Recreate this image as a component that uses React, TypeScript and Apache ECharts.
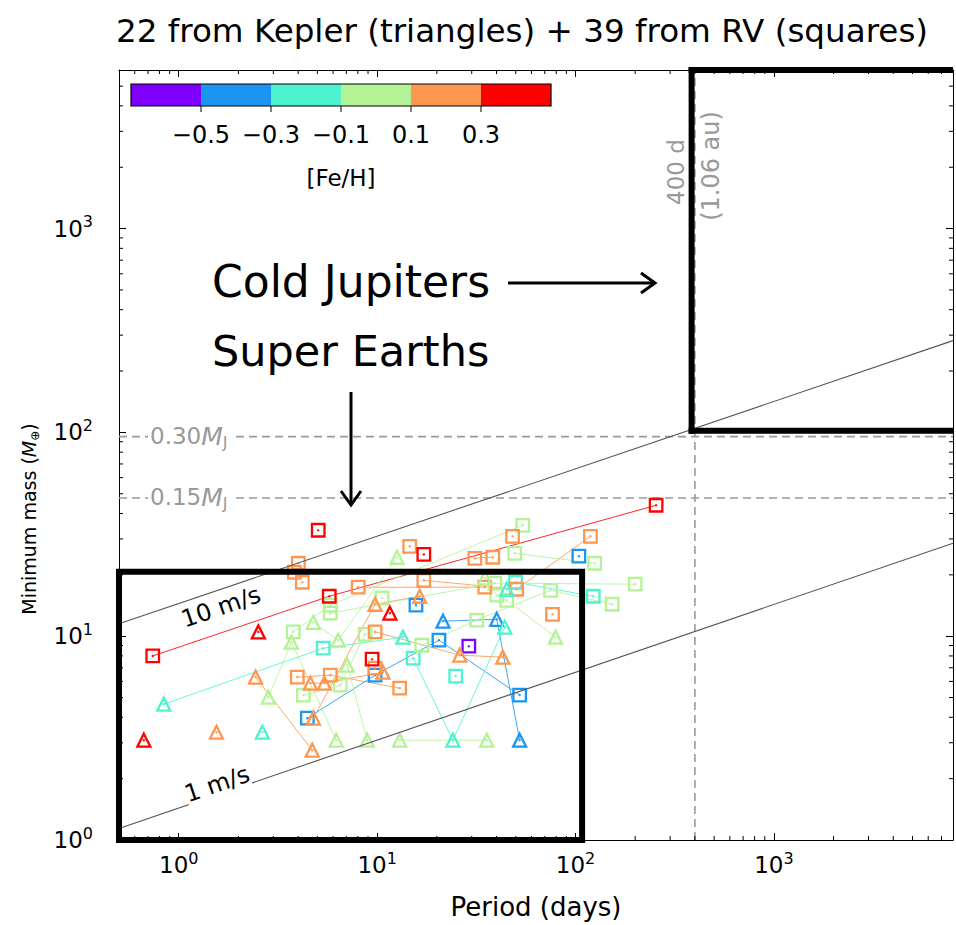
import React, { useEffect, useRef } from 'react';
import * as echarts from 'echarts';

// ---------- axis ranges / ticks ----------
const X_MIN = 0.5;
const X_MAX = 8000;
const Y_MIN = 1;
const Y_MAX = 6000;

// ---------- [Fe/H] colour bins ----------
const fehEdges = [-0.7, -0.5, -0.3, -0.1, 0.1, 0.3, 0.5];
const fehColors = ['#8000ff', '#1a96f2', '#4df3ce', '#b3f396', '#ff964f', '#ff0000'];
const fehTickValues = [-0.5, -0.3, -0.1, 0.1, 0.3];
const fehTickLabels = ['−0.5', '−0.3', '−0.1', '0.1', '0.3'];

// ---------- planets (period [d], minimum mass [M_earth], [Fe/H], Kepler?, system id) ----------
const planetPeriod = [
  0.74, 5.74, 255, 2.44, 4.71, 3.96, 5.81, 13.0, 4.61, 5.42,
  10.7, 4.77, 9.77, 16.4, 9.77, 26.1, 43.0, 17.2, 50.5, 119,
  31.1, 38.3, 8.03, 34.9, 4.45, 9.77, 20.5, 52.3, 21.5, 40.1,
  52.3, 0.841, 5.35, 13.5, 15.2, 24.1, 44.0, 45.0, 49.9, 123,
  13.0, 35.7, 3.78, 5.81, 54.2, 5.81, 39.2, 200, 4.77, 6.37,
  12.6, 4.25, 6.52, 8.70, 2.83, 3.70, 6.22, 16.8, 31.8, 74.9,
  153, 7.07, 8.91, 49.4, 125, 34.9, 40.1, 45.0, 79.3, 5.05,
  17.2, 9.44, 0.667, 2.52, 11.6, 1.55, 4.01, 3.83, 4.20, 9.77,
  14.6, 48.2, 76.6, 10.6, 2.64, 24.9, 29.0, 15.7, 104,
];
const planetMass = [
  8.0, 15.7, 43.9, 6.3, 2.76, 6.3, 6.44, 5.56, 5.88, 5.88,
  6.66, 3.96, 14.35, 15.7, 10.5, 8.07, 7.89, 18.8, 17.0, 30.9,
  24.1, 24.4, 17.4, 17.4, 3.96, 6.44, 9.56, 5.14, 11.85, 12.1,
  3.09, 4.64, 8.73, 9.89, 7.8, 3.09, 11.07, 17.0, 18.4, 15.7,
  3.09, 3.09, 10.5, 14.2, 35.0, 12.97, 18.2, 18.0, 11.7, 9.56,
  24.4, 5.14, 5.75, 10.2, 5.02, 9.35, 3.09, 9.03, 12.0, 16.8,
  14.35, 7.21, 3.09, 25.5, 22.8, 19.3, 15.9, 15.0, 9.89, 33.1,
  25.2, 7.71, 3.09, 10.5, 12.97, 3.38, 22.8, 20.6, 18.4, 6.97,
  27.6, 30.9, 12.8, 15.4, 3.38, 6.37, 8.93, 14.2, 24.7,
];
const planetFeH = [
  0.4, 0.4, 0.4, 0.2, 0.2, 0.2, 0.2, 0.2, 0.2, 0.2,
  0.2, 0.2, 0.2, 0.2, 0.2, 0.2, 0.2, 0.2, 0.2, 0.2,
  0.2, 0.2, 0.2, 0.2, -0.4, -0.4, -0.4, -0.4, -0.4, -0.4,
  -0.4, -0.2, -0.2, -0.2, -0.2, -0.2, -0.2, -0.2, -0.2, -0.2,
  0, 0, 0, 0, 0, 0, 0, 0, 0, 0,
  0, 0, 0, 0, 0, 0, 0, 0, 0, 0,
  0, 0, 0, 0, 0, 0, 0, 0, 0, 0.4,
  0.4, 0.4, 0.4, 0.4, 0.4, 0.2, 0.2, 0.2, 0.2, 0.2,
  0.2, 0.2, 0.2, 0, -0.2, -0.2, -0.6, -0.4, -0.4,
];
const planetKepler = [
  0, 0, 0, 1, 1, 0, 0, 0, 1, 1,
  1, 1, 1, 1, 0, 1, 1, 0, 0, 0,
  0, 0, 0, 0, 0, 0, 0, 0, 1, 1,
  1, 1, 0, 1, 0, 1, 1, 1, 0, 0,
  1, 1, 0, 0, 0, 0, 0, 0, 1, 1,
  1, 0, 0, 0, 1, 1, 1, 0, 0, 0,
  0, 1, 1, 0, 0, 1, 0, 0, 1, 0,
  0, 0, 1, 1, 1, 1, 0, 0, 0, 0,
  0, 0, 0, 0, 1, 0, 0, 0, 0,
];
const planetSystem = [
  1, 1, 1, 2, 2, 3, 3, 3, 4, 4,
  4, 5, 5, 5, 6, 6, 6, 7, 7, 7,
  8, 8, 9, 9, 10, 10, 10, 10, 11, 11,
  11, 12, 12, 12, 13, 13, 13, 14, 14, 14,
  15, 15, 16, 16, 16, 17, 17, 17, 18, 18,
  18, 19, 19, 19, 20, 20, 20, 21, 21, 21,
  21, 22, 22, 23, 23, 24, 24, 24, 24, -1,
  -1, -1, -1, -1, -1, -1, -1, -1, -1, -1,
  -1, -1, -1, -1, -1, -1, -1, -1, -1,
];

// ---------- reference lines ----------
const rv10Period = [0.5, 8000];
const rv10Mass = [11.5, 282];
const rv1Period = [0.5, 8000];
const rv1Mass = [1.14, 28.6];
const jupiterFractions = [0.30, 0.15];
const jupiterMassInEarth = 317.8;
const periodLine400 = 400;

// ---------- boxes: [P_min, M_min, P_max, M_max, closedRightSide] ----------
const superEarthBox = [0.5, 1, 108, 20.7, 1];
const coldJupiterBox = [385, 102, 8000, 6000, 0];

const FONT = 'DejaVu Sans';

function binOf(feh: number) {
  for (let i = 1; i < fehEdges.length - 1; i++) if (feh < fehEdges[i]) return i - 1;
  return fehColors.length - 1;
}

function powLabel(v: number) {
  const l = Math.log10(v);
  const e = Math.round(l);
  if (Math.abs(l - e) > 1e-6 || e < 0) return '';
  return '{b|10}{s|' + e + '}';
}

const powRich = {
  b: { fontFamily: FONT, fontSize: 23, color: '#000', lineHeight: 30 },
  s: { fontFamily: FONT, fontSize: 16, color: '#000', lineHeight: 18, verticalAlign: 'top' },
};

function buildOption() {
  const series: any[] = [];

  // horizontal Jupiter-fraction lines & vertical 400 d line
  jupiterFractions.forEach((f) => {
    const m = f * jupiterMassInEarth;
    series.push({
      type: 'line', data: [[X_MIN, m], [X_MAX, m]], symbol: 'none', silent: true, z: 1,
      lineStyle: { color: '#999999', width: 1.6, type: [8, 5] },
    });
  });
  series.push({
    type: 'line', data: [[periodLine400, Y_MIN], [periodLine400, Y_MAX]], symbol: 'none', silent: true, z: 1,
    lineStyle: { color: '#999999', width: 1.6, type: [8, 5] },
  });

  // system connecting lines
  const ids = Array.from(new Set(planetSystem.filter((s) => s >= 0)));
  ids.forEach((id) => {
    const idx = planetSystem
      .map((s, i) => (s === id ? i : -1))
      .filter((i) => i >= 0)
      .sort((a, b) => planetPeriod[a] - planetPeriod[b]);
    series.push({
      type: 'line', symbol: 'none', silent: true, z: 2,
      data: idx.map((i) => [planetPeriod[i], planetMass[i]]),
      lineStyle: { color: fehColors[binOf(planetFeH[idx[0]])], width: 1, opacity: 0.85 },
    });
  });

  // planets
  [0, 1].forEach((k) => {
    fehColors.forEach((c, b) => {
      const data: number[][] = [];
      planetPeriod.forEach((p, i) => {
        if (planetKepler[i] === k && binOf(planetFeH[i]) === b) data.push([p, planetMass[i]]);
      });
      if (!data.length) return;
      series.push({
        type: 'scatter', symbol: k ? 'triangle' : 'rect', symbolSize: k ? 13 : 12.5, z: 3, silent: true,
        data, itemStyle: { color: 'rgba(255,255,255,0)', borderColor: c, borderWidth: 2.3, opacity: 1 },
      });
      series.push({
        type: 'scatter', symbol: 'circle', symbolSize: 2.5, z: 3, silent: true,
        data, itemStyle: { color: c, opacity: 0.9 },
      });
    });
  });

  // RV semi-amplitude lines
  [[rv10Period, rv10Mass], [rv1Period, rv1Mass]].forEach(([p, m]) => {
    series.push({
      type: 'line', symbol: 'none', silent: true, z: 4,
      data: p.map((v, i) => [v, m[i]]),
      lineStyle: { color: '#555555', width: 1.1 },
    });
  });

  // region boxes, drawn edge by edge
  series.push({
    type: 'custom', silent: true, z: 5, clip: false,
    data: [superEarthBox, coldJupiterBox],
    encode: { x: [0, 2], y: [1, 3] },
    renderItem: (_p: any, api: any) => {
      const a = api.coord([api.value(0), api.value(1)]);
      const b = api.coord([api.value(2), api.value(3)]);
      const closed = api.value(4) === 1;
      if (closed) {
        return {
          type: 'polyline',
          shape: { points: [[a[0], a[1]], [a[0], b[1]], [b[0], b[1]], [b[0], a[1]], [a[0], a[1]]] },
          style: { stroke: '#000', lineWidth: 6, fill: 'none', lineJoin: 'miter', lineCap: 'square' },
        };
      }
      const st = () => ({ stroke: '#000', lineWidth: 6, lineCap: 'butt' });
      return {
        type: 'group',
        children: [
          { type: 'line', shape: { x1: a[0], y1: a[1] + 3, x2: a[0], y2: b[1] - 3 }, style: st() },
          { type: 'line', shape: { x1: a[0] - 3, y1: b[1], x2: b[0], y2: b[1] }, style: st() },
          { type: 'line', shape: { x1: a[0] - 3, y1: a[1], x2: b[0], y2: a[1] }, style: st() },
        ],
      };
    },
  });

  // minor ticks (log decades)
  const minorX: number[] = [];
  for (let e = -1; e <= 3; e++) for (let m = 2; m <= 9; m++) {
    const v = m * Math.pow(10, e);
    if (v > X_MIN * 1.001 && v < X_MAX * 0.999) minorX.push(v);
  }
  const minorY: number[] = [];
  for (let e = 0; e <= 3; e++) for (let m = 2; m <= 9; m++) {
    const v = m * Math.pow(10, e);
    if (v > Y_MIN && v < Y_MAX * 0.999) minorY.push(v);
  }
  series.push({
    type: 'custom', silent: true, z: 6, clip: false,
    data: minorX.map((v) => [v, Y_MIN]),
    encode: { x: 0, y: 1 },
    renderItem: (_p: any, api: any) => {
      const v = api.value(0);
      const b = api.coord([v, Y_MIN]);
      const t = api.coord([v, Y_MAX]);
      return {
        type: 'group', children: [
          { type: 'line', shape: { x1: b[0], y1: b[1], x2: b[0], y2: b[1] - 4 }, style: { stroke: '#000', lineWidth: 1 } },
          { type: 'line', shape: { x1: t[0], y1: t[1], x2: t[0], y2: t[1] + 4 }, style: { stroke: '#000', lineWidth: 1 } },
        ],
      };
    },
  });
  series.push({
    type: 'custom', silent: true, z: 6, clip: false,
    data: minorY.map((v) => [X_MIN, v]),
    encode: { x: 0, y: 1 },
    renderItem: (_p: any, api: any) => {
      const v = api.value(1);
      const l = api.coord([X_MIN, v]);
      const r = api.coord([X_MAX, v]);
      return {
        type: 'group', children: [
          { type: 'line', shape: { x1: l[0], y1: l[1], x2: l[0] + 4, y2: l[1] }, style: { stroke: '#000', lineWidth: 1 } },
          { type: 'line', shape: { x1: r[0], y1: r[1], x2: r[0] - 4, y2: r[1] }, style: { stroke: '#000', lineWidth: 1 } },
        ],
      };
    },
  });

  const axisCommon = () => ({
    type: 'log', logBase: 10,
    axisLine: { show: true, onZero: false, lineStyle: { color: '#000', width: 1 } },
    axisTick: { show: true, inside: true, length: 7, lineStyle: { color: '#000', width: 1 } },
    splitLine: { show: false },
    minorTick: { show: false },
  });

  // ---------- graphics ----------
  const graphic: any[] = [];
  const CB_X0 = 131, CB_W = 420, CB_Y = 84, CB_H = 22;
  const cbX = (v: number) => CB_X0 + ((v - fehEdges[0]) / (fehEdges[fehEdges.length - 1] - fehEdges[0])) * CB_W;
  fehColors.forEach((c, i) => {
    graphic.push({
      type: 'rect', shape: { x: cbX(fehEdges[i]), y: CB_Y, width: cbX(fehEdges[i + 1]) - cbX(fehEdges[i]), height: CB_H },
      style: { fill: c }, z: 10,
    });
  });
  graphic.push({ type: 'rect', shape: { x: CB_X0, y: CB_Y, width: CB_W, height: CB_H }, style: { fill: 'none', stroke: '#000', lineWidth: 1.2 }, z: 11 });
  fehTickValues.forEach((v, i) => {
    const x = cbX(v);
    graphic.push({ type: 'line', shape: { x1: x, y1: CB_Y + CB_H, x2: x, y2: CB_Y + CB_H + 6 }, style: { stroke: '#000', lineWidth: 1 }, z: 11 });
    graphic.push({
      type: 'text', x, y: CB_Y + CB_H + 29, z: 11,
      style: { text: fehTickLabels[i], fontFamily: FONT, fontSize: 24, fill: '#000', align: 'center', verticalAlign: 'middle' },
    });
  });
  graphic.push({
    type: 'text', x: cbX(-0.1), y: 178, z: 11,
    style: { text: '[Fe/H]', fontFamily: FONT, fontSize: 23, fill: '#000', align: 'center', verticalAlign: 'middle' },
  });

  // title
  graphic.push({
    type: 'text', x: 522, y: 31, z: 11,
    style: { text: '22 from Kepler (triangles) + 39 from RV (squares)', fontFamily: FONT, fontSize: 32.6, fill: '#000', align: 'center', verticalAlign: 'middle' },
  });

  // y axis name
  graphic.push({
    type: 'text', x: 29, y: 519, rotation: Math.PI / 2, z: 11,
    style: {
      text: '{n|Minimum mass (}{i|M}{s|⊕}{n|)}', align: 'center', verticalAlign: 'middle',
      rich: {
        n: { fontFamily: FONT, fontSize: 19, fill: '#000', color: '#000', lineHeight: 24 },
        i: { fontFamily: FONT, fontSize: 19, fontStyle: 'italic', fill: '#000', color: '#000', lineHeight: 24 },
        s: { fontFamily: FONT, fontSize: 12, fill: '#000', color: '#000', lineHeight: 12, verticalAlign: 'bottom' },
      },
    },
  });

  // Jupiter-fraction labels
  jupiterFractions.forEach((f, i) => {
    graphic.push({
      type: 'text', x: 148, y: i === 0 ? 436 : 497, z: 12,
      style: {
        text: `{n|${f.toFixed(2)}}{i|M}{s|J}`, align: 'left', verticalAlign: 'middle',
        backgroundColor: '#fff', padding: [0, 5, 0, 2],
        rich: {
          n: { fontFamily: FONT, fontSize: 23, fill: '#999', color: '#999', lineHeight: 28 },
          i: { fontFamily: FONT, fontSize: 25, fontStyle: 'italic', fill: '#999', color: '#999', lineHeight: 28 },
          s: { fontFamily: FONT, fontSize: 16, fill: '#999', color: '#999', lineHeight: 15, verticalAlign: 'bottom' },
        },
      },
    });
  });

  // 400 d labels
  graphic.push({
    type: 'text', x: 676, y: 172, rotation: Math.PI / 2, z: 11,
    style: { text: '400 d', fontFamily: FONT, fontSize: 23, fill: '#999', align: 'center', verticalAlign: 'middle' },
  });
  graphic.push({
    type: 'text', x: 711, y: 166, rotation: Math.PI / 2, z: 11,
    style: { text: '(1.06 au)', fontFamily: FONT, fontSize: 24, fill: '#999', align: 'center', verticalAlign: 'middle' },
  });

  // RV line labels
  graphic.push({
    type: 'text', x: 221, y: 607, rotation: 0.33, z: 11,
    style: { text: '10 m/s', fontFamily: FONT, fontSize: 24, fill: '#000', align: 'center', verticalAlign: 'middle', backgroundColor: '#fff' },
  });
  graphic.push({
    type: 'text', x: 217, y: 784, rotation: 0.33, z: 11,
    style: { text: '1 m/s', fontFamily: FONT, fontSize: 24, fill: '#000', align: 'center', verticalAlign: 'middle', backgroundColor: '#fff' },
  });

  // region annotations
  graphic.push({
    type: 'text', x: 212, y: 281, z: 11,
    style: { text: 'Cold Jupiters', fontFamily: FONT, fontSize: 44, fill: '#000', align: 'left', verticalAlign: 'middle' },
  });
  graphic.push({
    type: 'text', x: 212, y: 351, z: 11,
    style: { text: 'Super Earths', fontFamily: FONT, fontSize: 43, fill: '#000', align: 'left', verticalAlign: 'middle' },
  });
  graphic.push({ type: 'line', shape: { x1: 508, y1: 283, x2: 654, y2: 283 }, style: { stroke: '#000', lineWidth: 3 }, z: 11 });
  graphic.push({ type: 'polyline', shape: { points: [[641, 273], [655, 283], [641, 293]] }, style: { stroke: '#000', lineWidth: 3, fill: 'none' }, z: 11 });
  graphic.push({ type: 'line', shape: { x1: 351, y1: 392, x2: 351, y2: 504 }, style: { stroke: '#000', lineWidth: 3 }, z: 11 });
  graphic.push({ type: 'polyline', shape: { points: [[341, 491], [351, 505], [361, 491]] }, style: { stroke: '#000', lineWidth: 3, fill: 'none' }, z: 11 });

  return {
    animation: false,
    backgroundColor: '#fff',
    grid: { left: 119, right: 1, top: 70, bottom: 85, containLabel: false },
    xAxis: [
      {
        ...axisCommon(), min: X_MIN, max: X_MAX, position: 'bottom',
        axisLabel: { formatter: powLabel, rich: powRich, margin: 10, showMinLabel: true, showMaxLabel: true },
        name: 'Period (days)', nameLocation: 'middle', nameGap: 54,
        nameTextStyle: { fontFamily: FONT, fontSize: 26, color: '#000' },
      },
      { ...axisCommon(), min: X_MIN, max: X_MAX, position: 'top', axisLabel: { show: false } },
    ],
    yAxis: [
      {
        ...axisCommon(), min: Y_MIN, max: Y_MAX, position: 'left',
        axisLabel: { formatter: powLabel, rich: powRich, margin: 26 },
      },
      { ...axisCommon(), min: Y_MIN, max: Y_MAX, position: 'right', axisLabel: { show: false } },
    ],
    series,
    graphic,
  };
}

export default function App() {
  const ref = useRef<HTMLDivElement>(null);
  useEffect(() => {
    if (!ref.current) return;
    const chart = echarts.init(ref.current, null, { renderer: 'svg' });
    chart.setOption(buildOption() as any);
    return () => chart.dispose();
  }, []);
  return (
    <div
      ref={ref}
      style={{ position: 'absolute', left: 0, top: 0, width: 956, height: 925, background: '#fff' }}
    />
  );
}
